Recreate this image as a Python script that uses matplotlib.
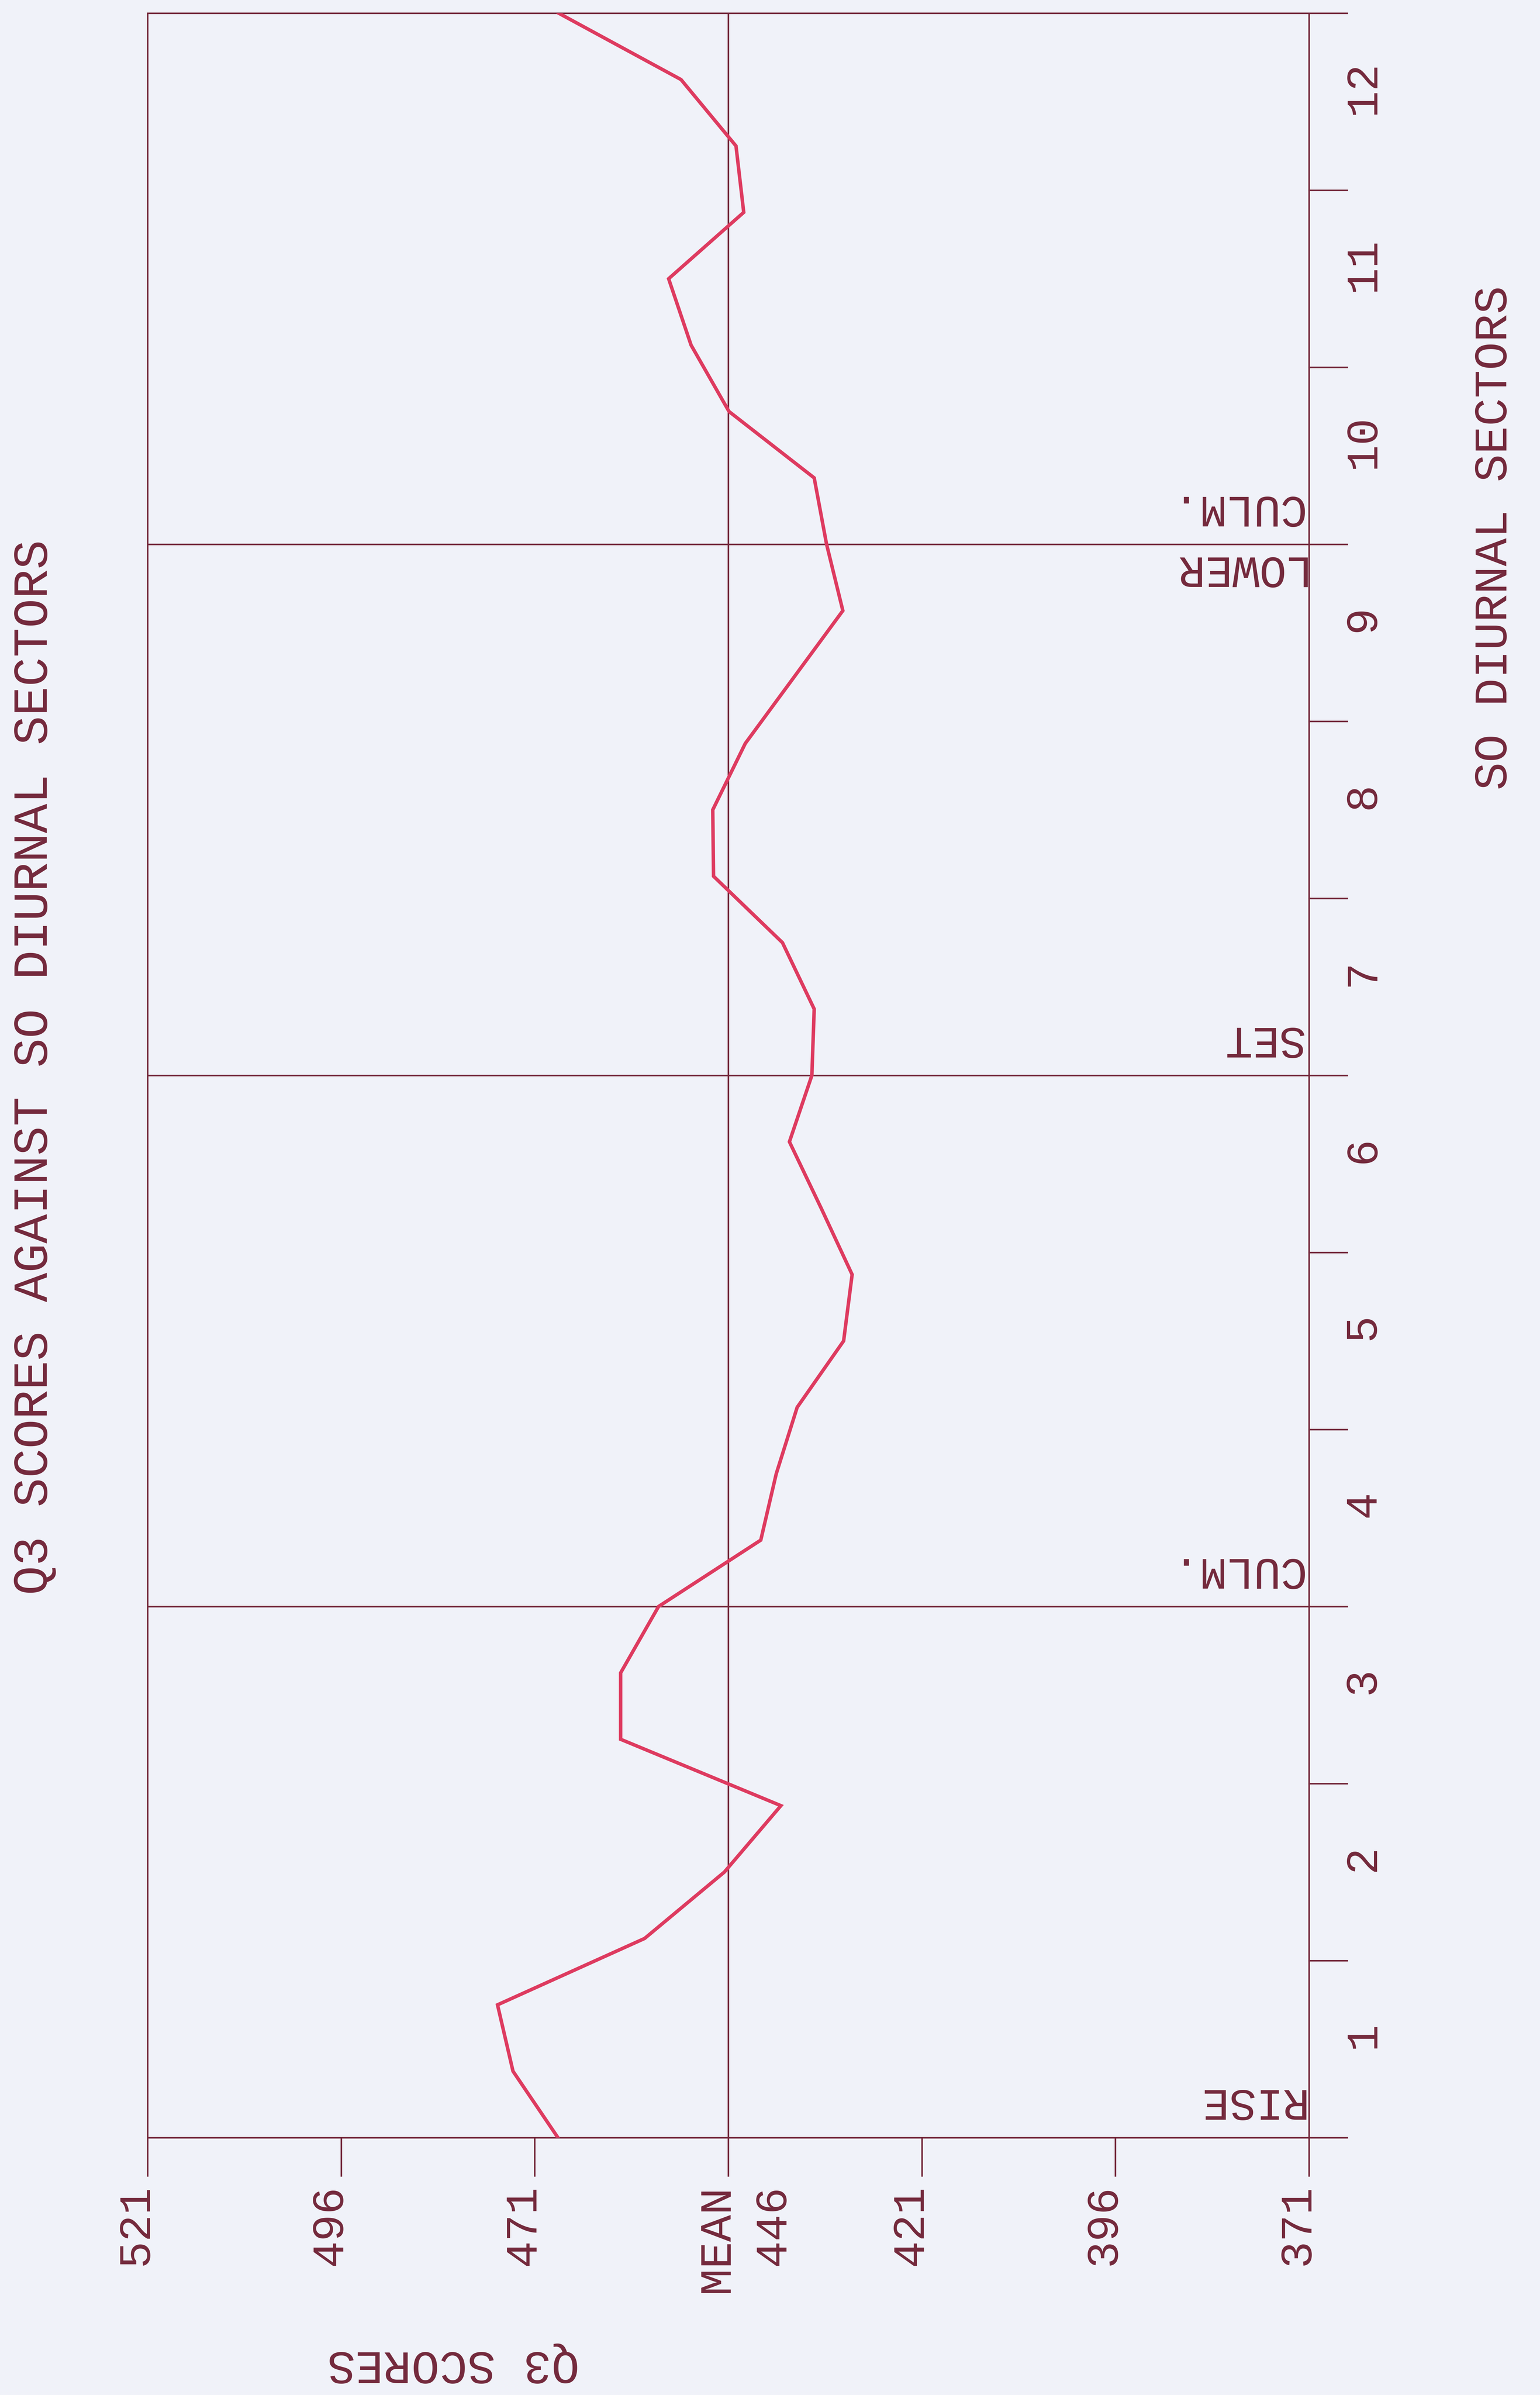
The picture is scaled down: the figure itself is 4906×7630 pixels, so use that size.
import matplotlib
matplotlib.use("Agg")
import matplotlib.pyplot as plt
from matplotlib.transforms import offset_copy

# diurnal sector position (0 = rise, 12 = next rise) and Q3 score
sectors = [0, 0.375, 0.75, 1.125, 1.5, 1.875, 2.25, 2.625, 3.0, 3.375, 3.75,
           4.125, 4.5, 4.875, 5.25, 5.625, 6.0, 6.375, 6.75, 7.125, 7.5,
           7.875, 8.25, 8.625, 9.0, 9.375, 9.75, 10.125, 10.5, 10.875, 11.25,
           11.625, 12.0]
scores = [468.0, 473.8, 475.8, 456.8, 446.5, 439.2, 459.9, 459.9, 455.0, 441.8,
          439.8, 437.1, 431.1, 430.0, 434.0, 438.1, 435.2, 434.9, 439.0, 447.9,
          448.0, 443.8, 437.5, 431.2, 433.3, 434.9, 445.9, 450.8, 453.7, 444.0,
          445.0, 452.1, 467.9]

score_ticks = [521, 496, 471, 446, 421, 396, 371]
score_labels = ["521", "496", "471", "MEAN", "421", "396", "371"]
mean_score = 446
sector_ticks = list(range(13))
sector_labels = [str(i) for i in range(1, 13)]
event_sectors = [0, 3, 6, 9]
event_labels = ["RISE", "CULM.", "SET", "CULM."]

ink = "#74293c"
red = "#de3b60"
paper = "#f0f2f9"
font = "Liberation Mono"
fs = 103

W, H = 4906, 7630
fig = plt.figure(figsize=(W / 100, H / 100), dpi=100, facecolor=paper)
ax = fig.add_axes([470 / W, 1 - 6810 / H, 3700 / W, (6810 - 42) / H])
ax.set_facecolor(paper)

ax.set_xlim(521, 371)
ax.set_ylim(0, 12)

for s in ax.spines.values():
    s.set_color(ink)
    s.set_linewidth(3.6)

ax.axvline(mean_score, color=ink, lw=3.6)
for s in event_sectors[1:]:
    ax.axhline(s, color=ink, lw=3.6)

ax.plot(scores, sectors, color=red, lw=8, solid_joinstyle="miter", zorder=3)

ax.set_xticks(score_ticks)
ax.set_yticks(sector_ticks)
ax.tick_params(axis="x", direction="out", length=89, width=3.6, color=ink,
               labelbottom=False)
ax.tick_params(axis="y", direction="out", length=89, width=3.6, color=ink,
               left=False, right=True, labelleft=False, labelright=False)

tf = ax.get_xaxis_transform()
for v, lab in zip(score_ticks, score_labels):
    ax.text(v, 0, lab, transform=offset_copy(tf, fig, x=0, y=-108, units="points"),
            rotation=90, rotation_mode="anchor", ha="right", va="baseline",
            family=font, fontsize=fs, color=ink)
ax.text(mean_score, 0, str(mean_score),
        transform=offset_copy(tf, fig, x=129, y=-108, units="points"),
        rotation=90, rotation_mode="anchor", ha="right", va="baseline",
        family=font, fontsize=fs, color=ink)

ty = ax.get_yaxis_transform()
for k, lab in enumerate(sector_labels, start=1):
    ax.text(1, k - 0.42, lab, transform=offset_copy(ty, fig, x=150, y=0, units="points"),
            rotation=90, rotation_mode="anchor", ha="center", va="baseline",
            family=font, fontsize=fs, color=ink)

for s, lab in zip(event_sectors, event_labels):
    ax.text(1, s, lab, transform=offset_copy(ty, fig, x=-14, y=110, units="points"),
            rotation=180, rotation_mode="anchor", ha="left", va="baseline",
            family=font, fontsize=fs, color=ink)
ax.text(1, 9, "LOWER", transform=offset_copy(ty, fig, x=-14, y=-29, units="points"),
        rotation=180, rotation_mode="anchor", ha="left", va="baseline",
        family=font, fontsize=fs, color=ink)

fig.text(150 / W, 1 - 3400 / H, "Q3 SCORES AGAINST SO DIURNAL SECTORS",
         rotation=90, rotation_mode="anchor", ha="center", va="baseline",
         family=font, fontsize=112, color=ink)
fig.text(4800 / W, 1 - 1714 / H, "SO DIURNAL SECTORS",
         rotation=90, rotation_mode="anchor", ha="center", va="baseline",
         family=font, fontsize=107, color=ink)
fig.text(1444 / W, 1 - 7492 / H, "Q3 SCORES",
         rotation=180, rotation_mode="anchor", ha="center", va="baseline",
         family=font, fontsize=107, color=ink)

fig.savefig("out.png", dpi=100, facecolor=paper)
